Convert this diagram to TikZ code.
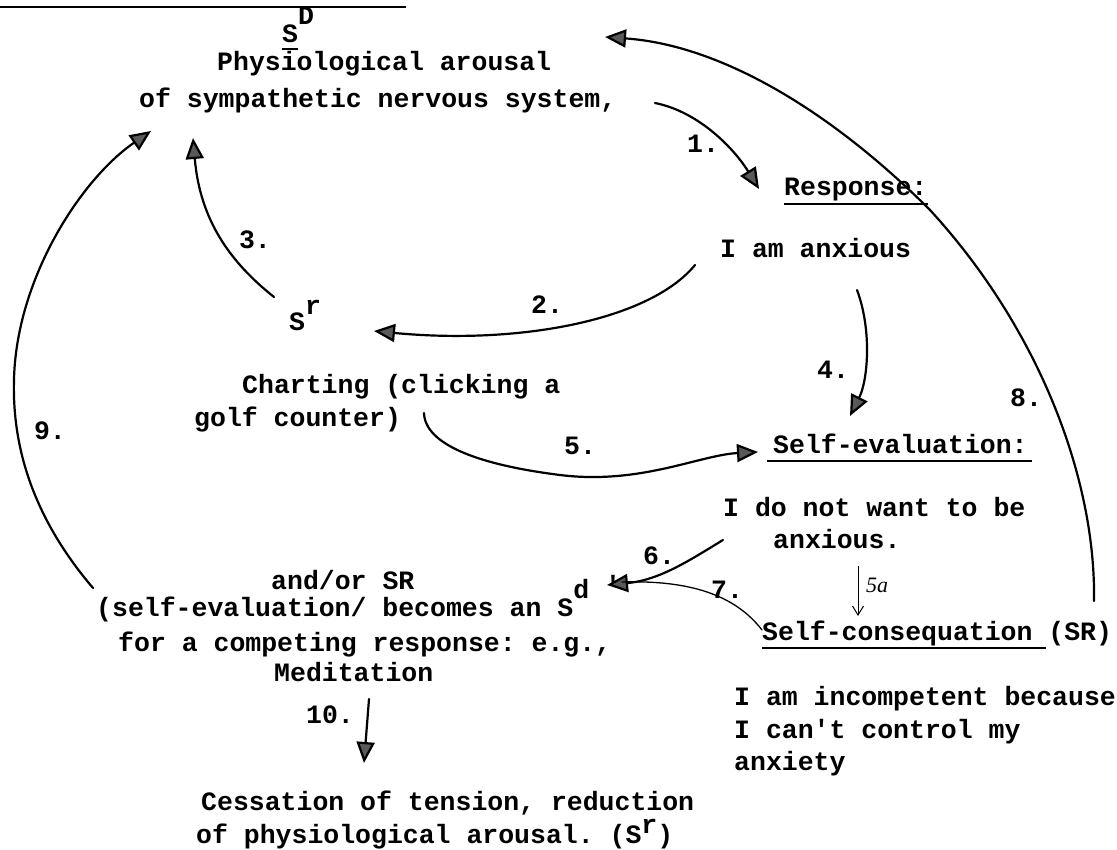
\documentclass[tikz,border=0pt]{standalone}
\usepackage{fontspec}
\setmonofont{Liberation Mono}
\newfontfamily\handfont{Liberation Serif}
\usetikzlibrary{arrows.meta}
\begin{document}
\begin{tikzpicture}[x=1pt,y=-1pt]
\tikzset{
  txt/.style={anchor=base west, inner sep=0pt, font=\ttfamily\fontsize{26.5}{32}\selectfont\bfseries},
  lbl/.style={inner sep=0pt, font=\ttfamily\fontsize{26.5}{32}\selectfont\bfseries},
  conn/.style={line width=2.2pt, line cap=round},
  thinconn/.style={line width=1.3pt, line cap=round},
  head/.style={-{Triangle[length=21pt,width=18pt,fill=black!65]}},
  uline/.style={line width=2.6pt},
}
\useasboundingbox (0,0) rectangle (1117,850);
% cut-off heading underline
\draw[uline] (0,7) -- (406,7);

% text nodes
\node[txt] (sD) at (282,43) {S\raisebox{18pt}{D}};
\draw[uline] ([yshift=-6pt]sD.base west) -- ++(16,0);
\node[txt] (phys1) at (217,71) {Physiological arousal};
\node[txt] (phys2) at (139,108) {of sympathetic nervous system,};
\node[txt] (resp) at (784,196) {Response:};
\draw[uline] ([yshift=-8pt]resp.base west) -- ([yshift=-8pt]resp.base east);
\node[txt] (anx) at (720,258) {I am anxious};
\node[txt] (sr) at (289,331) {S\raisebox{17pt}{r}};
\node[txt] (chart1) at (242,394) {Charting (clicking a};
\node[txt] (chart2) at (194,426) {golf counter)};
\node[txt] (seval) at (773,453) {Self-evaluation:};
\draw[uline] ([xshift=-6pt,yshift=-8pt]seval.base west) -- ([xshift=4pt,yshift=-8pt]seval.base east);
\node[txt] (want1) at (723,516) {I do not want to be};
\node[txt] (want2) at (773,548) {anxious.};
\node[anchor=base west, inner sep=0pt, font=\handfont\itshape\fontsize{22}{26}\selectfont] (fivea) at (866,592) {5a};
\node[txt] (scons) at (762,640) {Self-consequation (SR)};
\draw[uline] ([yshift=-8pt]scons.base west) -- ++(284,0);
\node[txt] (inc1) at (734,705) {I am incompetent because};
\node[txt] (inc2) at (734,738) {I can't control my};
\node[txt] (inc3) at (734,770) {anxiety};
\node[txt] (and1) at (271,589) {and/or SR};
\node[txt] (and2) at (96,616) {(self-evaluation/ becomes an S\raisebox{18pt}{d} \raisebox{22pt}{'}};
\node[txt] (and3) at (118,651) {for a competing response: e.g.,};
\node[txt] (and4) at (274,681) {Meditation};
\node[txt] (cess1) at (201,810) {Cessation of tension, reduction};
\node[txt] (cess2) at (196,843) {of physiological arousal. (S\raisebox{10pt}{r})};

% number labels
\node[lbl] (n1) at (703,144) {1.};
\node[lbl] (n2) at (547,305) {2.};
\node[lbl] (n3) at (255,240) {3.};
\node[lbl] (n4) at (833,370) {4.};
\node[lbl] (n5) at (580,446) {5.};
\node[lbl] (n6) at (659,556) {6.};
\node[lbl] (n7) at (727,590) {7.};
\node[lbl] (n8) at (1026,398) {8.};
\node[lbl] (n9) at (50,431) {9.};
\node[lbl] (n10) at (330,715) {10.};

% connector end points
\coordinate (a1s) at (655,103);  \coordinate (a1e) at (759,189);
\coordinate (a2s) at (695,265);  \coordinate (a2e) at (374,331);
\coordinate (a3s) at (274,297);  \coordinate (a3e) at (193,138);
\coordinate (a4s) at (857,290);  \coordinate (a4e) at (850,416);
\coordinate (a5s) at (424,413);  \coordinate (a5e) at (758,452);
\coordinate (a6s) at (723,540);  \coordinate (a6e) at (607,585);
\coordinate (a7s) at (762,630);  \coordinate (a7e) at (622,582);
\coordinate (a8s) at (1094,601); \coordinate (a8e) at (605,37);
\coordinate (a9s) at (93,588);   \coordinate (a9e) at (151,131);
\coordinate (a10s) at (369,699); \coordinate (a10e) at (364,763);
\coordinate (a5as) at (858,566); \coordinate (a5ae) at (858,616);

% connectors
\draw[conn,head] (a1s) .. controls (700,112) and (735,150) .. (a1e);
\draw[conn,head] (a2s) .. controls (650,320) and (520,345) .. (a2e);
\draw[conn,head] (a3s) .. controls (230,262) and (200,220) .. (a3e);
\draw[conn,head] (a4s) .. controls (872,330) and (868,380) .. (a4e);
\draw[conn,head] (a5s) .. controls (425,445) and (480,465) .. (560,475)
                 .. controls (640,485) and (700,455) .. (a5e);
\draw[conn,head] (a6s) .. controls (690,560) and (660,580) .. (a6e);
\draw[thinconn] (a7s) .. controls (735,595) and (690,580) .. (a7e);
\draw[conn,head] (a8s) .. controls (1096,480) and (1040,330) .. (930,210)
                 .. controls (830,110) and (720,45) .. (a8e);
\draw[conn,head] (a9s) .. controls (35,520) and (12,450) .. (14,380)
                 .. controls (16,280) and (80,180) .. (a9e);
\draw[conn,head] (a10s) -- (a10e);
\draw[line width=1pt,-{Straight Barb[length=9pt,width=11pt]}] (a5as) -- (a5ae);
\end{tikzpicture}
\end{document}
